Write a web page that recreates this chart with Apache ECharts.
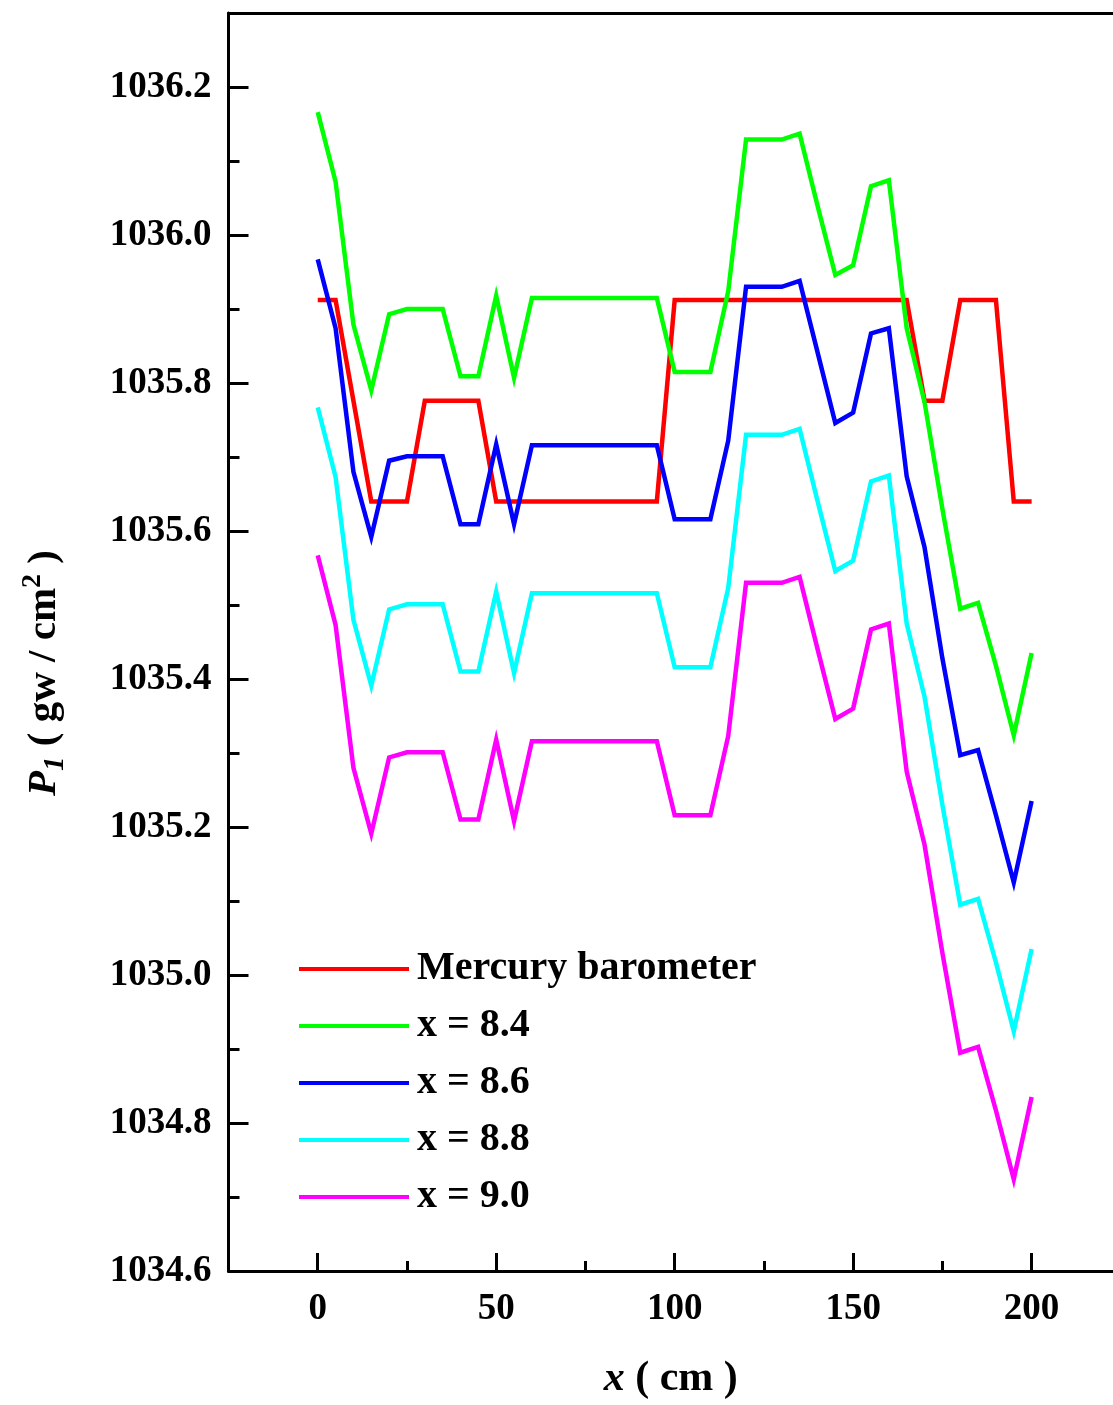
<!DOCTYPE html>
<html><head><meta charset="utf-8">
<script src="https://cdn.jsdelivr.net/npm/echarts@6/dist/echarts.min.js"></script>
<style>html,body{margin:0;padding:0;background:#fff}#c{width:1113px;height:1405px}</style>
</head><body><div id="c"></div>
<script>
const xValues = [0,5,10,15,20,25,30,35,40,45,50,55,60,65,70,75,80,85,90,95,100,105,110,115,120,125,130,135,140,145,150,155,160,165,170,175,180,185,190,195,200];

const mercury = [1035.912,1035.912,1035.776,1035.640,1035.640,1035.640,1035.776,1035.776,1035.776,1035.776,
  1035.640,1035.640,1035.640,1035.640,1035.640,1035.640,1035.640,1035.640,1035.640,1035.640,
  1035.912,1035.912,1035.912,1035.912,1035.912,1035.912,1035.912,1035.912,1035.912,1035.912,
  1035.912,1035.912,1035.912,1035.912,1035.776,1035.776,1035.912,1035.912,1035.912,1035.640,1035.640];

const x84 = [1036.166,1036.072,1035.879,1035.790,1035.893,1035.900,1035.900,1035.900,1035.809,1035.809,
  1035.918,1035.807,1035.915,1035.915,1035.915,1035.915,1035.915,1035.915,1035.915,1035.915,
  1035.815,1035.815,1035.815,1035.924,1036.129,1036.129,1036.129,1036.137,1036.040,1035.946,
  1035.959,1036.066,1036.074,1035.874,1035.774,1035.630,1035.495,1035.503,1035.418,1035.324,1035.435];

const x86 = [1035.967,1035.874,1035.680,1035.592,1035.695,1035.701,1035.701,1035.701,1035.609,1035.609,
  1035.717,1035.609,1035.716,1035.716,1035.716,1035.716,1035.716,1035.716,1035.716,1035.716,
  1035.616,1035.616,1035.616,1035.722,1035.930,1035.930,1035.930,1035.938,1035.842,1035.746,
  1035.760,1035.867,1035.874,1035.674,1035.578,1035.428,1035.297,1035.304,1035.216,1035.125,1035.235];

const x88 = [1035.767,1035.673,1035.480,1035.391,1035.494,1035.501,1035.501,1035.501,1035.410,1035.410,
  1035.518,1035.408,1035.516,1035.516,1035.516,1035.516,1035.516,1035.516,1035.516,1035.516,
  1035.416,1035.416,1035.416,1035.523,1035.730,1035.730,1035.730,1035.738,1035.641,1035.546,
  1035.560,1035.667,1035.675,1035.475,1035.376,1035.230,1035.095,1035.103,1035.017,1034.924,1035.035];

const x90 = [1035.567,1035.473,1035.280,1035.191,1035.294,1035.301,1035.301,1035.301,1035.210,1035.210,
  1035.318,1035.208,1035.316,1035.316,1035.316,1035.316,1035.316,1035.316,1035.316,1035.316,
  1035.216,1035.216,1035.216,1035.323,1035.530,1035.530,1035.530,1035.538,1035.441,1035.346,
  1035.360,1035.467,1035.475,1035.275,1035.176,1035.030,1034.895,1034.903,1034.817,1034.724,1034.835];

const seriesNames = ['Mercury barometer','x = 8.4','x = 8.6','x = 8.8','x = 9.0'];
const seriesColors = ['#ff0000','#00ff00','#0000ff','#00ffff','#ff00ff'];
const seriesValues = [mercury, x84, x86, x88, x90];

const xMajorTicks = [0,50,100,150,200];
const xMinorTicks = [25,75,125,175];
const yMajorTicks = [1034.6,1034.8,1035.0,1035.2,1035.4,1035.6,1035.8,1036.0,1036.2];
const yMinorTicks = [1034.7,1034.9,1035.1,1035.3,1035.5,1035.7,1035.9,1036.1];

const FONT = "'Liberation Serif','Times New Roman',serif";
const chart = echarts.init(document.getElementById('c'), null, {renderer:'canvas'});

const axisLine = {show:true, onZero:false, lineStyle:{color:'#000', width:3}};
const X_MIN = -25, X_MAX = 222.8;
const Y_MIN = 1034.6, Y_MAX = 1036.3;

chart.setOption({
  animation:false,
  backgroundColor:'#fff',
  grid:{left:228.5, top:13, right:0, height:1260, containLabel:false},
  legend:{
    orient:'vertical', left:299, top:949, padding:0,
    icon:'rect', itemWidth:110, itemHeight:4, itemGap:17,
    data:seriesNames,
    textStyle:{fontFamily:FONT, fontWeight:'bold', fontSize:40, color:'#000', lineHeight:40, padding:[0,0,0,3]}
  },
  xAxis:[
    {type:'value', min:X_MIN, max:X_MAX, position:'bottom',
     axisLine:axisLine,
     axisTick:{show:true, inside:true, length:18, customValues:xMajorTicks, lineStyle:{color:'#000', width:3}},
     axisLabel:{show:true, customValues:xMajorTicks, margin:20, fontFamily:FONT, fontWeight:'bold', fontSize:37, color:'#000'},
     splitLine:{show:false},
     name:'{i|x}{n| ( cm )}', nameLocation:'middle', nameGap:87,
     nameTextStyle:{rich:{
       i:{fontFamily:FONT, fontWeight:'bold', fontStyle:'italic', fontSize:42, color:'#000'},
       n:{fontFamily:FONT, fontWeight:'bold', fontSize:42, color:'#000'}
     }}
    },
    {type:'value', min:X_MIN, max:X_MAX, position:'bottom',
     axisLine:{show:false, onZero:false},
     axisTick:{show:true, inside:true, length:10, customValues:xMinorTicks, lineStyle:{color:'#000', width:3}},
     axisLabel:{show:false}, splitLine:{show:false}
    },
    {type:'value', min:X_MIN, max:X_MAX, position:'top',
     axisLine:axisLine, axisTick:{show:false}, axisLabel:{show:false}, splitLine:{show:false}
    }
  ],
  yAxis:[
    {type:'value', min:Y_MIN, max:Y_MAX, position:'left',
     axisLine:axisLine,
     axisTick:{show:true, inside:true, length:20, customValues:yMajorTicks, lineStyle:{color:'#000', width:3}},
     axisLabel:{show:true, customValues:yMajorTicks, margin:17, formatter:v=>Number(v).toFixed(1),
       fontFamily:FONT, fontWeight:'bold', fontSize:37, color:'#000'},
     splitLine:{show:false},
     name:'{pi|P}{sub|1}{n| ( gw / cm}{sup|2}{n| )}', nameLocation:'middle', nameGap:158,
     nameTextStyle:{padding:[0,62,0,0], rich:{
       pi:{fontFamily:FONT, fontWeight:'bold', fontStyle:'italic', fontSize:41, lineHeight:52, color:'#000'},
       sub:{fontFamily:FONT, fontWeight:'bold', fontStyle:'italic', fontSize:29, lineHeight:22, verticalAlign:'bottom', color:'#000'},
       n:{fontFamily:FONT, fontWeight:'bold', fontSize:41, lineHeight:52, color:'#000'},
       sup:{fontFamily:FONT, fontWeight:'bold', fontSize:28, lineHeight:22, verticalAlign:'top', color:'#000'}
     }}
    },
    {type:'value', min:Y_MIN, max:Y_MAX, position:'left',
     axisLine:{show:false, onZero:false},
     axisTick:{show:true, inside:true, length:11, customValues:yMinorTicks, lineStyle:{color:'#000', width:3}},
     axisLabel:{show:false}, splitLine:{show:false}
    }
  ],
  series: seriesNames.map((name,k)=>({
    name:name, type:'line', xAxisIndex:0, yAxisIndex:0,
    symbol:'none', showSymbol:false,
    color:seriesColors[k],
    lineStyle:{color:seriesColors[k], width:4.5, join:'miter', miterLimit:10},
    data:xValues.map((x,i)=>[x, seriesValues[k][i]])
  }))
});
</script></body></html>
